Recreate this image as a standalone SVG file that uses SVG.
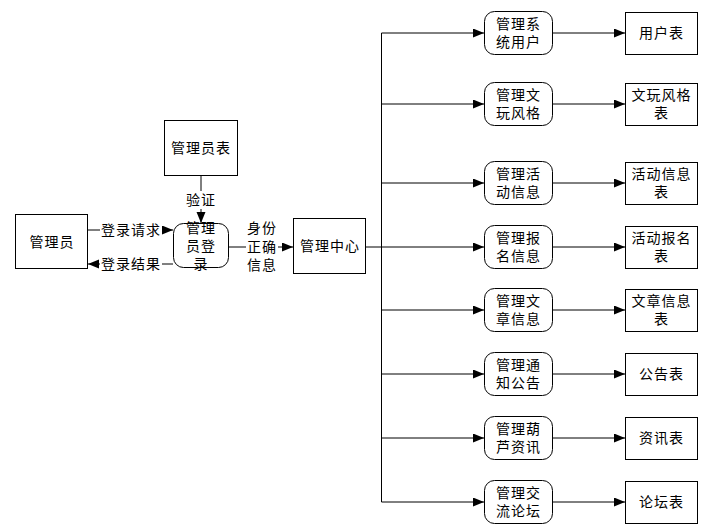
<svg xmlns="http://www.w3.org/2000/svg" width="723" height="531" viewBox="0 0 723 531">
<style>
text{font-family:"Liberation Sans","Noto Sans CJK SC",sans-serif;font-size:14px;fill:#000;text-anchor:middle;dominant-baseline:central;letter-spacing:1px}
.box{fill:#fff;stroke:#000;stroke-width:1}
.rbox{fill:#fff;stroke:#000;stroke-width:1}
.ln{fill:none;stroke:#000;stroke-width:1}
.lbl{fill:#fff;stroke:none}
</style>
<defs>
<marker id="arr" markerUnits="userSpaceOnUse" markerWidth="12" markerHeight="10" refX="11" refY="4.5" orient="auto">
<path d="M0,0 L11,4.5 L0,9 z" fill="#000"/>
</marker>
</defs>
<rect width="723" height="531" fill="#fff"/>
<g id="connectors">
<line class="ln" x1="201" y1="175" x2="201" y2="223" marker-end="url(#arr)"/>
<rect class="lbl" x="185" y="191" width="32" height="18"/>
<text x="201" y="200">验证</text>
<line class="ln" x1="88" y1="230" x2="173" y2="230" marker-end="url(#arr)"/>
<rect class="lbl" x="100" y="221" width="62" height="18"/>
<text x="131" y="230">登录请求</text>
<line class="ln" x1="173" y1="264" x2="88" y2="264" marker-end="url(#arr)"/>
<rect class="lbl" x="100" y="255" width="62" height="18"/>
<text x="131" y="264">登录结果</text>
<line class="ln" x1="229" y1="247" x2="293" y2="247" marker-end="url(#arr)"/>
<rect class="lbl" x="246" y="219" width="32" height="55"/>
<text x="262" y="228">身份</text>
<text x="262" y="247">正确</text>
<text x="262" y="265">信息</text>
<line class="ln" x1="366" y1="247" x2="381.5" y2="247"/>
<line class="ln" x1="381.5" y1="33" x2="381.5" y2="502"/>
<line class="ln" x1="381.5" y1="33" x2="484" y2="33" marker-end="url(#arr)"/>
<line class="ln" x1="381.5" y1="104" x2="484" y2="104" marker-end="url(#arr)"/>
<line class="ln" x1="381.5" y1="183" x2="484" y2="183" marker-end="url(#arr)"/>
<line class="ln" x1="381.5" y1="247" x2="484" y2="247" marker-end="url(#arr)"/>
<line class="ln" x1="381.5" y1="310" x2="484" y2="310" marker-end="url(#arr)"/>
<line class="ln" x1="381.5" y1="374" x2="484" y2="374" marker-end="url(#arr)"/>
<line class="ln" x1="381.5" y1="438" x2="484" y2="438" marker-end="url(#arr)"/>
<line class="ln" x1="381.5" y1="502" x2="484" y2="502" marker-end="url(#arr)"/>
<line class="ln" x1="553" y1="33" x2="625" y2="33" marker-end="url(#arr)"/>
<line class="ln" x1="553" y1="104" x2="625" y2="104" marker-end="url(#arr)"/>
<line class="ln" x1="553" y1="183" x2="625" y2="183" marker-end="url(#arr)"/>
<line class="ln" x1="553" y1="247" x2="625" y2="247" marker-end="url(#arr)"/>
<line class="ln" x1="553" y1="310" x2="625" y2="310" marker-end="url(#arr)"/>
<line class="ln" x1="553" y1="374" x2="625" y2="374" marker-end="url(#arr)"/>
<line class="ln" x1="553" y1="438" x2="625" y2="438" marker-end="url(#arr)"/>
<line class="ln" x1="553" y1="502" x2="625" y2="502" marker-end="url(#arr)"/>
</g>
<g id="admin"><rect class="box" x="15.5" y="214.5" width="72" height="54"/><text x="52" y="242">管理员</text></g>
<g id="admin-table"><rect class="box" x="164.5" y="120.5" width="73" height="55"/><text x="201" y="148">管理员表</text></g>
<g id="admin-login"><rect class="rbox" x="173.5" y="223.5" width="55" height="44" rx="10"/><text x="201" y="228">管理</text><text x="201" y="246">员登</text><text x="201" y="264">录</text></g>
<g id="center"><rect class="box" x="293.5" y="218.5" width="72" height="55"/><text x="330" y="246">管理中心</text></g>

<g id="m1"><rect class="rbox" x="484.5" y="11.5" width="68" height="43" rx="10"/><text x="518.5" y="24">管理系</text><text x="518.5" y="42">统用户</text></g>
<g id="m2"><rect class="rbox" x="484.5" y="82.5" width="68" height="43" rx="10"/><text x="518.5" y="95">管理文</text><text x="518.5" y="113">玩风格</text></g>
<g id="m3"><rect class="rbox" x="484.5" y="161.5" width="68" height="43" rx="10"/><text x="518.5" y="174">管理活</text><text x="518.5" y="192">动信息</text></g>
<g id="m4"><rect class="rbox" x="484.5" y="225.5" width="68" height="43" rx="10"/><text x="518.5" y="238">管理报</text><text x="518.5" y="256">名信息</text></g>
<g id="m5"><rect class="rbox" x="484.5" y="288.5" width="68" height="43" rx="10"/><text x="518.5" y="301">管理文</text><text x="518.5" y="319">章信息</text></g>
<g id="m6"><rect class="rbox" x="484.5" y="352.5" width="68" height="43" rx="10"/><text x="518.5" y="365">管理通</text><text x="518.5" y="383">知公告</text></g>
<g id="m7"><rect class="rbox" x="484.5" y="416.5" width="68" height="43" rx="10"/><text x="518.5" y="429">管理葫</text><text x="518.5" y="447">芦资讯</text></g>
<g id="m8"><rect class="rbox" x="484.5" y="480.5" width="68" height="43" rx="10"/><text x="518.5" y="493">管理交</text><text x="518.5" y="511">流论坛</text></g>

<g id="t1"><rect class="box" x="625.5" y="12.5" width="72" height="42"/><text x="661.5" y="33">用户表</text></g>
<g id="t2"><rect class="box" x="625.5" y="83.5" width="72" height="42"/><text x="661.5" y="95">文玩风格</text><text x="661.5" y="113">表</text></g>
<g id="t3"><rect class="box" x="625.5" y="162.5" width="72" height="42"/><text x="661.5" y="174">活动信息</text><text x="661.5" y="192">表</text></g>
<g id="t4"><rect class="box" x="625.5" y="226.5" width="72" height="42"/><text x="661.5" y="238">活动报名</text><text x="661.5" y="256">表</text></g>
<g id="t5"><rect class="box" x="625.5" y="289.5" width="72" height="42"/><text x="661.5" y="301">文章信息</text><text x="661.5" y="319">表</text></g>
<g id="t6"><rect class="box" x="625.5" y="353.5" width="72" height="42"/><text x="661.5" y="374">公告表</text></g>
<g id="t7"><rect class="box" x="625.5" y="417.5" width="72" height="42"/><text x="661.5" y="438">资讯表</text></g>
<g id="t8"><rect class="box" x="625.5" y="481.5" width="72" height="42"/><text x="661.5" y="502">论坛表</text></g>
</svg>
